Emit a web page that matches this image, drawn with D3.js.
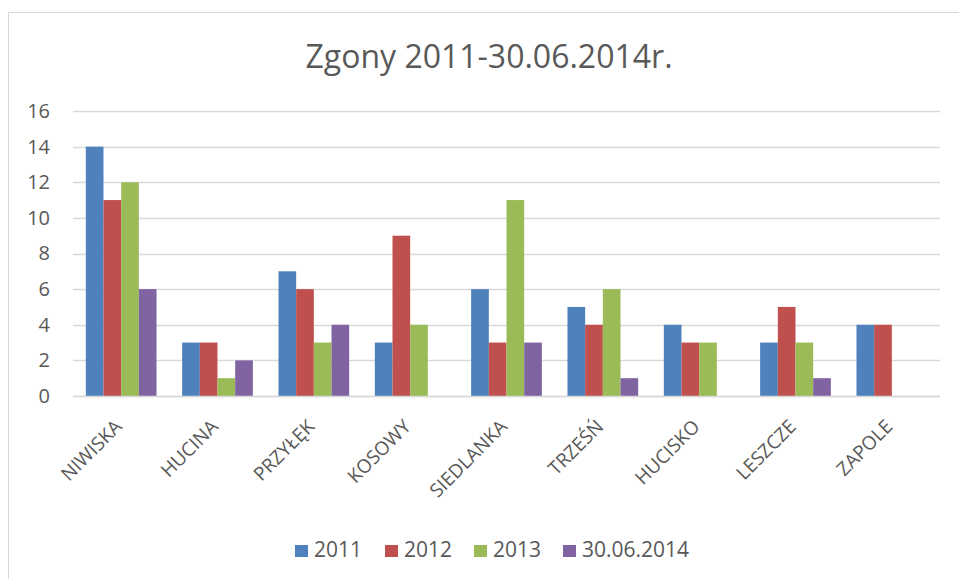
<!DOCTYPE html>
<html>
<head>
<meta charset="utf-8">
<script src="https://cdn.jsdelivr.net/npm/d3@7"></script>
<style>
body{margin:0;background:#fff;}
text{font-family:"Open Sans","Liberation Sans",sans-serif;fill:#595959;}
</style>
</head>
<body>
<div id="chart"></div>
<script>
var categories = ["NIWISKA","HUCINA","PRZYŁĘK","KOSOWY","SIEDLANKA","TRZEŚŃ","HUCISKO","LESZCZE","ZAPOLE"]
var seriesNames = ["2011","2012","2013","30.06.2014"]
var v2011 = [14,3,7,3,6,5,4,3,4]
var v2012 = [11,3,6,9,3,4,3,5,4]
var v2013 = [12,1,3,4,11,6,3,3,0]
var v2014 = [6,2,4,0,3,1,0,1,0]
var yTicks = [0,2,4,6,8,10,12,14,16]
var colors = ["#4F81BD","#C0504D","#9BBB59","#8064A2"]

var allSeries = [v2011,v2012,v2013,v2014]

var width = 959
var height = 579
var marge = {top:111,bottom:183,left:73,right:19}

var svg = d3.select('#chart')
	.append('svg')
	.attr('width', width)
	.attr('height', height);

// frame
svg.append("rect")
	.attr("x",8.5).attr("y",12.5)
	.attr("width",width+10).attr("height",height+10)
	.attr("fill","none").attr("stroke","#d9d9d9");

svg.append("text")
	.attr("x",489).attr("y",68)
	.attr("text-anchor","middle")
	.style("font-size","32px")
	.text("Zgony 2011-30.06.2014r.");

var g = svg.append("g")
	.attr("transform","translate("+marge.left+","+marge.top+")");

var innerW = width-marge.left-marge.right
var innerH = height-marge.top-marge.bottom

var xScale = d3.scaleBand()
	.domain(categories)
	.range([0,innerW])
	.paddingInner(0.266)
	.paddingOuter(0.133);
var x1 = d3.scaleBand()
	.domain(d3.range(seriesNames.length))
	.range([0,xScale.bandwidth()]);
var yScale = d3.scaleLinear()
	.domain([0,16])
	.range([innerH,0]);

// gridlines
g.selectAll(".grid")
	.data(yTicks)
	.enter()
	.append("line")
	.attr("x1",0).attr("x2",innerW)
	.attr("y1",function(d){return Math.round(yScale(d))+0.5;})
	.attr("y2",function(d){return Math.round(yScale(d))+0.5;})
	.attr("stroke","#d9d9d9")
	.attr("stroke-width",1.5);

var yAxis = d3.axisLeft(yScale).tickValues(yTicks).tickSize(0).tickPadding(23);
var ya = g.append("g").call(yAxis);
ya.select(".domain").remove();
ya.selectAll("text").style("font-size","20px").attr("fill","#595959");

var xAxis = d3.axisBottom(xScale).tickSize(0);
var xa = g.append("g")
	.attr("transform","translate(0,"+innerH+")")
	.call(xAxis);
xa.select(".domain").remove();
xa.selectAll("text")
	.style("font-size","19px")
	.attr("fill","#595959")
	.attr("text-anchor","end")
	.attr("dy","0.35em")
	.attr("transform","translate(-5,25) rotate(-45)");

var gs = g.selectAll(".cat")
	.data(categories)
	.enter()
	.append("g")
	.attr("transform",function(d){return "translate("+xScale(d)+",0)";});

gs.selectAll("rect")
	.data(function(d,i){
		return allSeries.map(function(s,j){return {k:j,v:s[i]};});
	})
	.enter()
	.append("rect")
	.attr("x",function(d){return x1(d.k);})
	.attr("y",function(d){return yScale(d.v);})
	.attr("width",x1.bandwidth())
	.attr("height",function(d){return innerH-yScale(d.v);})
	.attr("fill",function(d){return colors[d.k];});

// baseline
g.append("line")
	.attr("x1",0).attr("x2",innerW)
	.attr("y1",innerH+0.5).attr("y2",innerH+0.5)
	.attr("stroke","#d9d9d9").attr("stroke-width",1.5);

// legend
var legX = [295,385,474,563]
var leg = svg.selectAll(".leg")
	.data(seriesNames)
	.enter()
	.append("g")
	.attr("transform",function(d,i){return "translate("+legX[i]+",545)";});
leg.append("rect")
	.attr("width",13).attr("height",12)
	.attr("fill",function(d,i){return colors[i];});
leg.append("text")
	.attr("x",19).attr("y",12)
	.style("font-size","21px")
	.text(function(d){return d;});
</script>
</body>
</html>
